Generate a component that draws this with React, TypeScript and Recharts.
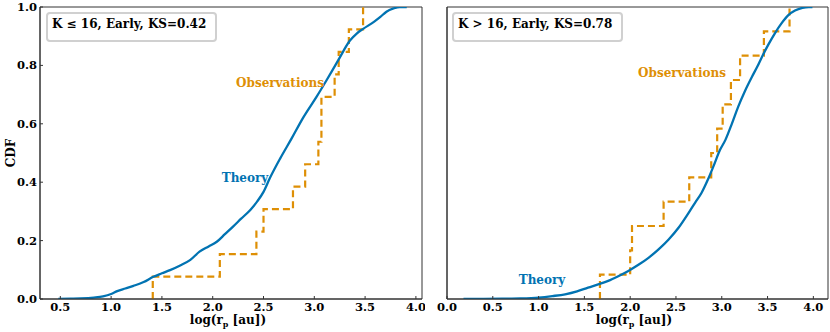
import React from 'react';
import { LineChart, Line, XAxis, YAxis, ReferenceArea } from 'recharts';

// ---- data ----
const leftTheoryX = [0.48, 0.6, 0.7, 0.83, 0.92, 1.0, 1.06, 1.14, 1.22, 1.32, 1.415, 1.5, 1.58, 1.68, 1.78, 1.87, 1.96, 2.04, 2.12, 2.2, 2.28, 2.37, 2.44, 2.5, 2.564, 2.662, 2.777, 2.892, 3.023, 3.122, 3.236, 3.351, 3.42, 3.48, 3.59, 3.65, 3.71, 3.78, 3.84, 3.91];
const leftTheoryY = [0, 0.001, 0.002, 0.005, 0.009, 0.017, 0.027, 0.036, 0.045, 0.058, 0.076, 0.088, 0.099, 0.115, 0.134, 0.162, 0.18, 0.196, 0.222, 0.248, 0.275, 0.305, 0.335, 0.367, 0.415, 0.48, 0.55, 0.622, 0.693, 0.75, 0.818, 0.885, 0.91, 0.925, 0.95, 0.966, 0.984, 0.995, 1.0, 1.0];
const leftObs = [1.41, 2.07, 2.43, 2.5, 2.79, 2.91, 3.04, 3.07, 3.07, 3.2, 3.24, 3.34, 3.48];

const rightTheoryX = [0.18, 0.4, 0.6, 0.8, 1.0, 1.15, 1.29, 1.42, 1.54, 1.65, 1.76, 1.87, 1.98, 2.09, 2.2, 2.31, 2.42, 2.53, 2.64, 2.71, 2.78, 2.85, 2.91, 2.98, 3.04, 3.11, 3.18, 3.25, 3.33, 3.39, 3.44, 3.51, 3.58, 3.65, 3.73, 3.8, 3.88, 3.95, 3.99];
const rightTheoryY = [0, 0.0005, 0.001, 0.002, 0.005, 0.01, 0.016, 0.026, 0.039, 0.05, 0.062, 0.078, 0.096, 0.117, 0.141, 0.17, 0.204, 0.245, 0.296, 0.33, 0.364, 0.41, 0.455, 0.51, 0.545, 0.6, 0.659, 0.71, 0.761, 0.797, 0.83, 0.872, 0.91, 0.943, 0.973, 0.988, 0.997, 1.0, 1.0];
const rightObs = [1.67, 2.0, 2.02, 2.365, 2.645, 2.885, 2.95, 3.01, 3.1, 3.2, 3.46, 3.74];

const leftXTicks = [0.5, 1.0, 1.5, 2.0, 2.5, 3.0, 3.5, 4.0];
const rightXTicks = [0.0, 0.5, 1.0, 1.5, 2.0, 2.5, 3.0, 3.5, 4.0];
const yTicks = [0.0, 0.2, 0.4, 0.6, 0.8, 1.0];

const leftTitle = 'K ≤ 16, Early, KS=0.42';
const rightTitle = 'K > 16, Early, KS=0.78';

const BLUE = '#0173B2';
const ORANGE = '#DE8F05';
const AXIS = '#333';
const FONT = '"DejaVu Serif", serif';

const toPts = (xs: number[], ys: number[]) => xs.map((x, i) => ({ x, y: ys[i] }));
const toSteps = (obs: number[]) => [{ x: obs[0], y: 0 }, ...obs.map((x, i) => ({ x, y: (i + 1) / obs.length }))];

const tickStyle = { fontFamily: FONT, fontWeight: 'bold', fontSize: 11.5, fill: '#000' } as any;

type PanelProps = {
  width: number;
  marginRight: number;
  yWidth: number;
  showY: boolean;
  domain: [number, number];
  xTicks: number[];
  theory: { x: number; y: number }[];
  steps: { x: number; y: number }[];
};

const Panel = ({ width, marginRight, yWidth, showY, domain, xTicks, theory, steps }: PanelProps) => (
  <LineChart width={width} height={332} margin={{ top: 7, right: marginRight, bottom: 0, left: 0 }}>
    <XAxis
      type="number"
      dataKey="x"
      domain={domain}
      ticks={xTicks}
      allowDataOverflow
      height={33}
      tickSize={-3}
      tickMargin={7}
      tick={tickStyle}
      tickFormatter={(v: number) => v.toFixed(1)}
      stroke={AXIS}
      interval={0}
    />
    <YAxis
      type="number"
      dataKey="y"
      domain={[0, 1]}
      ticks={yTicks}
      allowDataOverflow
      width={yWidth}
      tickSize={-3}
      tickMargin={6}
      tick={showY ? tickStyle : false}
      tickFormatter={(v: number) => v.toFixed(1)}
      stroke={AXIS}
      interval={0}
    />
    <ReferenceArea x1={domain[0]} x2={domain[1]} y1={0} y2={1} fill="none" stroke={AXIS} strokeWidth={1} ifOverflow="visible" />
    <Line data={steps} dataKey="y" type="stepAfter" stroke={ORANGE} strokeWidth={2.2} strokeDasharray="7 4" dot={false} isAnimationActive={false} />
    <Line data={theory} dataKey="y" type="monotone" stroke={BLUE} strokeWidth={2.3} dot={false} isAnimationActive={false} />
  </LineChart>
);

const T = ({ x, y, color = '#000', size = 12, children, rotate }: any) => (
  <div
    style={{
      position: 'absolute',
      left: x,
      top: y,
      transform: `translate(-50%, -50%)${rotate ? ` rotate(${rotate}deg)` : ''}`,
      fontFamily: FONT,
      fontWeight: 'bold',
      fontSize: size,
      color,
      whiteSpace: 'nowrap',
      lineHeight: 1,
    }}
  >
    {children}
  </div>
);

const Box = ({ left, text }: { left: number; text: string }) => (
  <div
    style={{
      position: 'absolute',
      left,
      top: 12,
      width: 171,
      height: 30,
      boxSizing: 'border-box',
      border: '2px solid #d0d0d0',
      borderRadius: 4,
      background: '#fff',
      fontFamily: FONT,
      fontWeight: 'bold',
      fontSize: 12,
      color: '#000',
      whiteSpace: 'nowrap',
      paddingLeft: 4,
      paddingTop: 4,
      lineHeight: 1,
    }}
  >
    {text}
  </div>
);

const XLabel = ({ x }: { x: number }) => (
  <T x={x} y={321} size={12}>
    log(r<sub style={{ fontSize: 8, verticalAlign: '-3px' }}>p</sub> [au])
  </T>
);

export default function App() {
  return (
    <div style={{ position: 'absolute', left: 0, top: 0, width: 830, height: 332, background: '#fff' }}>
      <div style={{ position: 'absolute', left: 0, top: 0 }}>
        <Panel
          width={425}
          marginRight={3}
          yWidth={40}
          showY
          domain={[0.3, 4.06]}
          xTicks={leftXTicks}
          theory={toPts(leftTheoryX, leftTheoryY)}
          steps={toSteps(leftObs)}
        />
      </div>
      <div style={{ position: 'absolute', left: 425, top: 0 }}>
        <Panel
          width={405}
          marginRight={2}
          yWidth={22}
          showY={false}
          domain={[0, 4.16]}
          xTicks={rightXTicks}
          theory={toPts(rightTheoryX, rightTheoryY)}
          steps={toSteps(rightObs)}
        />
      </div>
      <Box left={46} text={leftTitle} />
      <Box left={452} text={rightTitle} />
      <T x={280} y={83} color={ORANGE}>Observations</T>
      <T x={245} y={178} color={BLUE}>Theory</T>
      <T x={682} y={73} color={ORANGE}>Observations</T>
      <T x={542} y={280} color={BLUE}>Theory</T>
      <T x={11} y={153} size={12} rotate={-90}>CDF</T>
      <XLabel x={228} />
      <XLabel x={634} />
    </div>
  );
}
